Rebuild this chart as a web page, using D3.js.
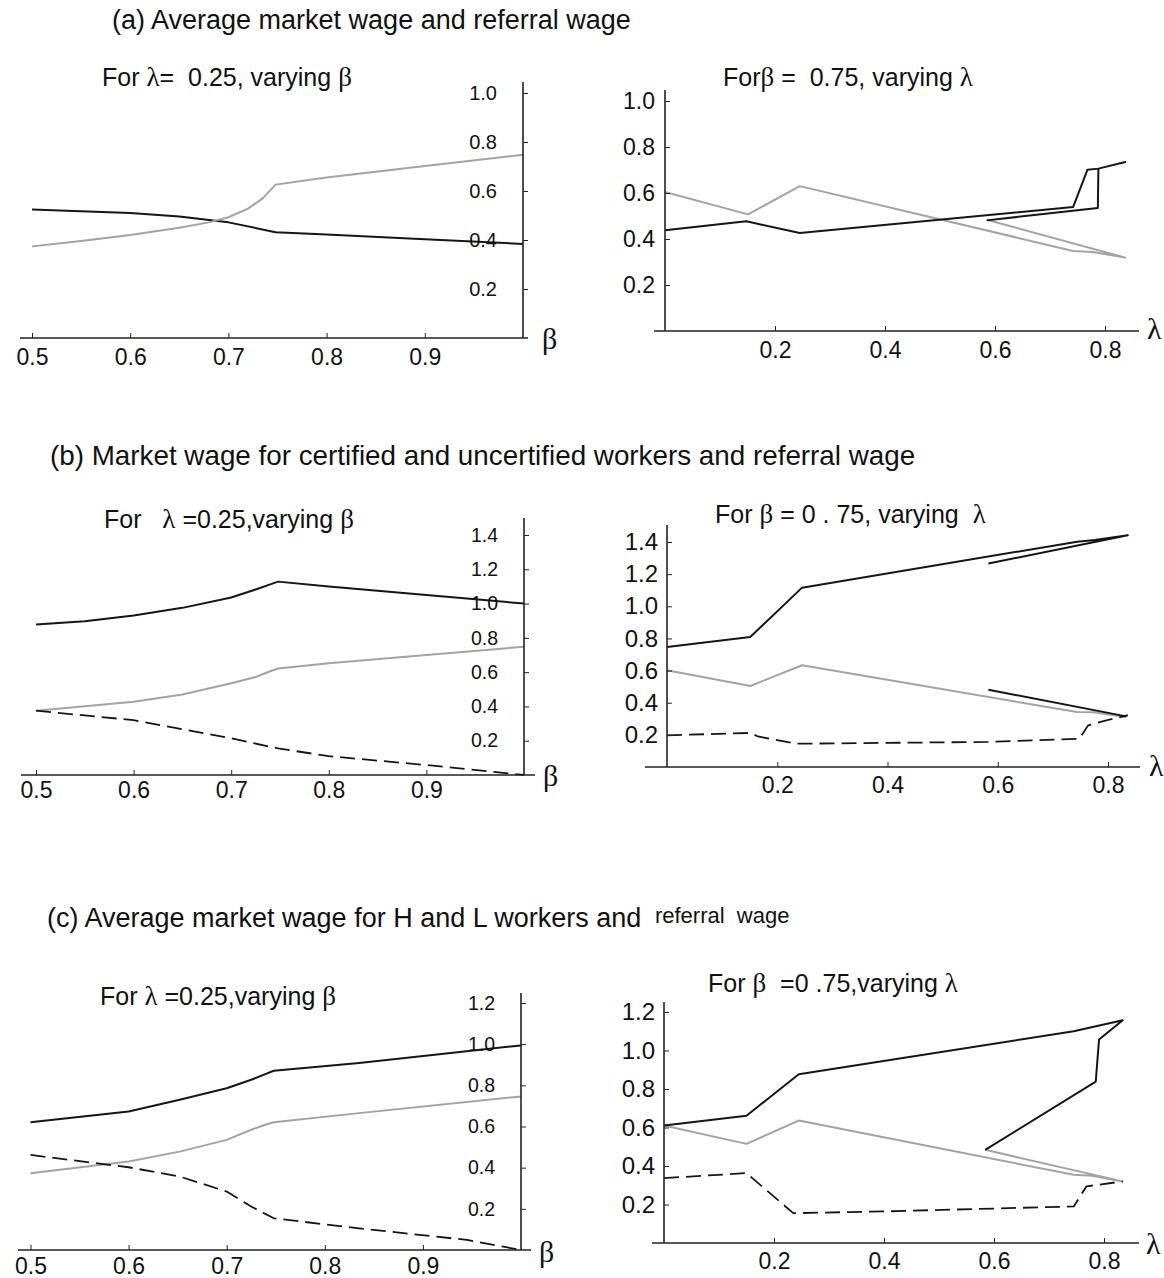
<!DOCTYPE html>
<html>
<head>
<meta charset="utf-8">
<script src="https://cdn.jsdelivr.net/npm/d3@7"></script>
<style>
  body { margin: 0; background: #fff; }
  text { font-family: "Liberation Sans", Arial, sans-serif; fill: #111; white-space: pre; }
  .greek { font-family: "Liberation Serif", "DejaVu Serif", serif; }
</style>
</head>
<body>
<svg id="chart" width="1164" height="1278"></svg>
<script>
// tick values
const betaTicks = [0.5, 0.6, 0.7, 0.8, 0.9];
const lambdaTicks = [0.2, 0.4, 0.6, 0.8];
const yTicksA = [0.2, 0.4, 0.6, 0.8, 1.0];
const yTicksB = [0.2, 0.4, 0.6, 0.8, 1.0, 1.2, 1.4];
const yTicksC = [0.2, 0.4, 0.6, 0.8, 1.0, 1.2];

// (a) average market wage (black) and referral wage (gray)
const aLeftMarket = [[0.5,0.524],[0.6,0.51],[0.65,0.496],[0.7,0.472],[0.748,0.432],[0.8,0.422],[0.9,0.403],[1.0,0.384]];
const aLeftReferral = [[0.5,0.374],[0.55,0.396],[0.6,0.42],[0.65,0.45],[0.68,0.472],[0.7,0.493],[0.72,0.528],[0.735,0.57],[0.748,0.626],[0.8,0.655],[0.9,0.702],[1.0,0.748]];
const aRightMarket = [[0,0.438],[0.148,0.477],[0.245,0.426],[0.742,0.539],[0.768,0.701],[0.788,0.706],[0.837,0.735],[0.788,0.706],[0.787,0.535],[0.585,0.481]];
const aRightReferral = [[0,0.604],[0.151,0.507],[0.245,0.63],[0.742,0.348],[0.778,0.343],[0.837,0.319],[0.585,0.484]];

// (b) certified (black), uncertified (dashed), referral (gray)
const bLeftCertified = [[0.5,0.878],[0.55,0.897],[0.6,0.93],[0.65,0.975],[0.7,1.035],[0.725,1.082],[0.74,1.112],[0.748,1.128],[0.8,1.1],[0.9,1.05],[1.0,1.0]];
const bLeftReferral = [[0.5,0.375],[0.6,0.427],[0.65,0.47],[0.7,0.535],[0.725,0.572],[0.74,0.605],[0.748,0.621],[0.8,0.652],[0.9,0.7],[1.0,0.748]];
const bLeftUncertified = [[0.5,0.375],[0.6,0.32],[0.7,0.214],[0.748,0.155],[0.8,0.11],[0.9,0.058],[1.0,0.0]];
const bRightCertified = [[0,0.747],[0.151,0.809],[0.245,1.116],[0.744,1.402],[0.776,1.412],[0.836,1.442],[0.583,1.266]];
const bRightCertifiedBranch = [[0.583,0.481],[0.833,0.315]];
const bRightReferral = [[0,0.602],[0.151,0.504],[0.245,0.633],[0.744,0.342],[0.774,0.34],[0.833,0.311]];
const bRightUncertified = [[0,0.197],[0.151,0.212],[0.165,0.19],[0.235,0.145],[0.583,0.156],[0.748,0.176],[0.764,0.259],[0.797,0.29],[0.836,0.322]];

// (c) H workers (black), L workers (dashed), referral (gray)
const cLeftHigh = [[0.5,0.621],[0.6,0.673],[0.652,0.73],[0.7,0.786],[0.725,0.827],[0.74,0.856],[0.748,0.871],[0.835,0.908],[1.0,0.994]];
const cLeftReferral = [[0.5,0.373],[0.6,0.43],[0.652,0.478],[0.7,0.535],[0.725,0.584],[0.74,0.61],[0.748,0.621],[0.835,0.665],[1.0,0.746]];
const cLeftLow = [[0.5,0.462],[0.6,0.402],[0.652,0.357],[0.7,0.284],[0.725,0.211],[0.748,0.154],[0.835,0.105],[0.945,0.049],[0.982,0.016],[1.0,0.0]];
const cRightHigh = [[0,0.61],[0.15,0.661],[0.245,0.877],[0.745,1.1],[0.834,1.157],[0.791,1.057],[0.785,0.838],[0.584,0.484]];
const cRightReferral = [[0,0.61],[0.15,0.515],[0.245,0.636],[0.745,0.354],[0.778,0.349],[0.834,0.32],[0.584,0.484]];
const cRightLow = [[0,0.337],[0.15,0.363],[0.235,0.155],[0.4,0.164],[0.745,0.19],[0.768,0.294],[0.834,0.32]];

const svg = d3.select("#chart");

const lineStyles = {
  black: { stroke: "#151515", width: 2, dash: null },
  gray:  { stroke: "#a3a3a3", width: 2, dash: null },
  dash:  { stroke: "#151515", width: 1.8, dash: "15,7" }
};

// section headings
const sections = [
  { x: 112, y: 29, size: 27, parts: [["(a) Average market wage and referral wage", 0]] },
  { x: 50, y: 465, size: 27.8, parts: [["(b) Market wage for certified and uncertified workers and referral wage", 0]] },
  { x: 47, y: 927, size: 27, parts: [["(c) Average market wage for H and L workers and ", 0], [" referral  wage", -4]] }
];
sections.forEach(s => {
  const t = svg.append("text").attr("x", s.x).attr("y", s.y).attr("font-size", s.size);
  s.parts.forEach(p => {
    t.append("tspan").attr("dy", p[1]).attr("font-size", p[1] ? 22 : s.size).text(p[0]);
  });
});

// panel layouts (pixels)
const panels = [
  { title: [["For ",0],["λ",1],["=  0.25, varying ",0],["β",1]], tx: 102, ty: 86,
    xDom: [0.5, 1.0], xRng: [32, 523], yDom: [0, 1.0], yRng: [338, 93],
    xAxis: [20, 528], yTop: 82, yAxisAt: 523, xTicks: betaTicks, yTicks: yTicksA,
    xPad: 11, yPad: 26, yFont: 20, xFont: 23, varName: "β", vx: 542, vy: 349,
    series: [[aLeftMarket, "black"], [aLeftReferral, "gray"]] },
  { title: [["For",0],["β",1],[" =  0.75, varying ",0],["λ",1]], tx: 723, ty: 86,
    xDom: [0, 0.8], xRng: [665, 1105], yDom: [0, 1.0], yRng: [331, 101],
    xAxis: [654, 1139], yTop: 90, yAxisAt: 665, xTicks: lambdaTicks, yTicks: yTicksA,
    xPad: 11, yPad: 10, yFont: 23, xFont: 23, varName: "λ", vx: 1147, vy: 339,
    series: [[aRightReferral, "gray"], [aRightMarket, "black"]] },
  { title: [["For   ",0],["λ",1],[" =0.25,varying ",0],["β",1]], tx: 104, ty: 528,
    xDom: [0.5, 1.0], xRng: [36, 524], yDom: [0, 1.4], yRng: [775, 535],
    xAxis: [21, 535], yTop: 518, yAxisAt: 524, xTicks: betaTicks, yTicks: yTicksB,
    xPad: 7, yPad: 26, yFont: 19.5, xFont: 23, varName: "β", vx: 543, vy: 786,
    series: [[bLeftReferral, "gray"], [bLeftUncertified, "dash"], [bLeftCertified, "black"]] },
  { title: [["For ",0],["β",1],[" = 0 . 75, varying  ",0],["λ",1]], tx: 715, ty: 523,
    xDom: [0, 0.8], xRng: [667, 1108], yDom: [0, 1.4], yRng: [767, 542],
    xAxis: [645, 1140], yTop: 525, yAxisAt: 667, xTicks: lambdaTicks, yTicks: yTicksB,
    xPad: 10, yPad: 9, yFont: 24, xFont: 23, varName: "λ", vx: 1149, vy: 776,
    series: [[bRightReferral, "gray"], [bRightUncertified, "dash"], [bRightCertified, "black"], [bRightCertifiedBranch, "black"]] },
  { title: [["For ",0],["λ",1],[" =0.25,varying ",0],["β",1]], tx: 100, ty: 1005,
    xDom: [0.5, 1.0], xRng: [30.5, 521], yDom: [0, 1.2], yRng: [1250, 1003],
    xAxis: [18, 531], yTop: 993, yAxisAt: 521, xTicks: betaTicks, yTicks: yTicksC,
    xPad: 8, yPad: 26, yFont: 19.5, xFont: 23, varName: "β", vx: 539, vy: 1262,
    series: [[cLeftReferral, "gray"], [cLeftLow, "dash"], [cLeftHigh, "black"]] },
  { title: [["For ",0],["β",1],["  =0 .75,varying ",0],["λ",1]], tx: 708, ty: 992,
    xDom: [0, 0.8], xRng: [664, 1104], yDom: [0, 1.2], yRng: [1243, 1012],
    xAxis: [652, 1139], yTop: 1002, yAxisAt: 664, xTicks: lambdaTicks, yTicks: yTicksC,
    xPad: 10, yPad: 9, yFont: 24, xFont: 23, varName: "λ", vx: 1146, vy: 1254,
    series: [[cRightReferral, "gray"], [cRightLow, "dash"], [cRightHigh, "black"]] }
];

panels.forEach(p => {
  const x = d3.scaleLinear().domain(p.xDom).range(p.xRng);
  const y = d3.scaleLinear().domain(p.yDom).range(p.yRng);
  const g = svg.append("g");

  // panel title
  const t = g.append("text").attr("x", p.tx).attr("y", p.ty).attr("font-size", 25);
  p.title.forEach(part => {
    t.append("tspan").attr("class", part[1] ? "greek" : null)
      .attr("font-size", part[1] ? 27 : 25).text(part[0]);
  });

  // curves
  const line = d3.line().x(d => x(d[0])).y(d => y(d[1]));
  p.series.forEach(([data, style]) => {
    const st = lineStyles[style];
    g.append("path")
      .attr("d", line(data))
      .attr("fill", "none")
      .attr("stroke", st.stroke)
      .attr("stroke-width", st.width)
      .attr("stroke-dasharray", st.dash)
      .attr("stroke-linejoin", "round");
  });

  // x axis
  const y0 = y(0);
  const xa = g.append("g").attr("transform", `translate(0,${y0})`)
    .call(d3.axisBottom(x).tickValues(p.xTicks).tickFormat(d3.format(".1f"))
      .tickSizeInner(-5).tickSizeOuter(0).tickPadding(p.xPad));
  xa.select(".domain").remove();
  xa.selectAll("text").attr("font-size", p.xFont).attr("font-family", null);
  xa.selectAll("line").attr("stroke", "#222");
  g.append("line").attr("x1", p.xAxis[0]).attr("x2", p.xAxis[1])
    .attr("y1", y0).attr("y2", y0).attr("stroke", "#222").attr("stroke-width", 1.6);

  // y axis
  const ya = g.append("g").attr("transform", `translate(${p.yAxisAt},0)`)
    .call(d3.axisLeft(y).tickValues(p.yTicks).tickFormat(d3.format(".1f"))
      .tickSizeInner(-5).tickSizeOuter(0).tickPadding(p.yPad));
  ya.select(".domain").remove();
  ya.selectAll("text").attr("font-size", p.yFont).attr("font-family", null);
  ya.selectAll("line").attr("stroke", "#222");
  g.append("line").attr("x1", p.yAxisAt).attr("x2", p.yAxisAt)
    .attr("y1", p.yTop).attr("y2", y0).attr("stroke", "#222").attr("stroke-width", 1.6);

  // variable name at the end of the x axis
  g.append("text").attr("class", "greek").attr("x", p.vx).attr("y", p.vy)
    .attr("font-size", 30).text(p.varName);
});
</script>
</body>
</html>
